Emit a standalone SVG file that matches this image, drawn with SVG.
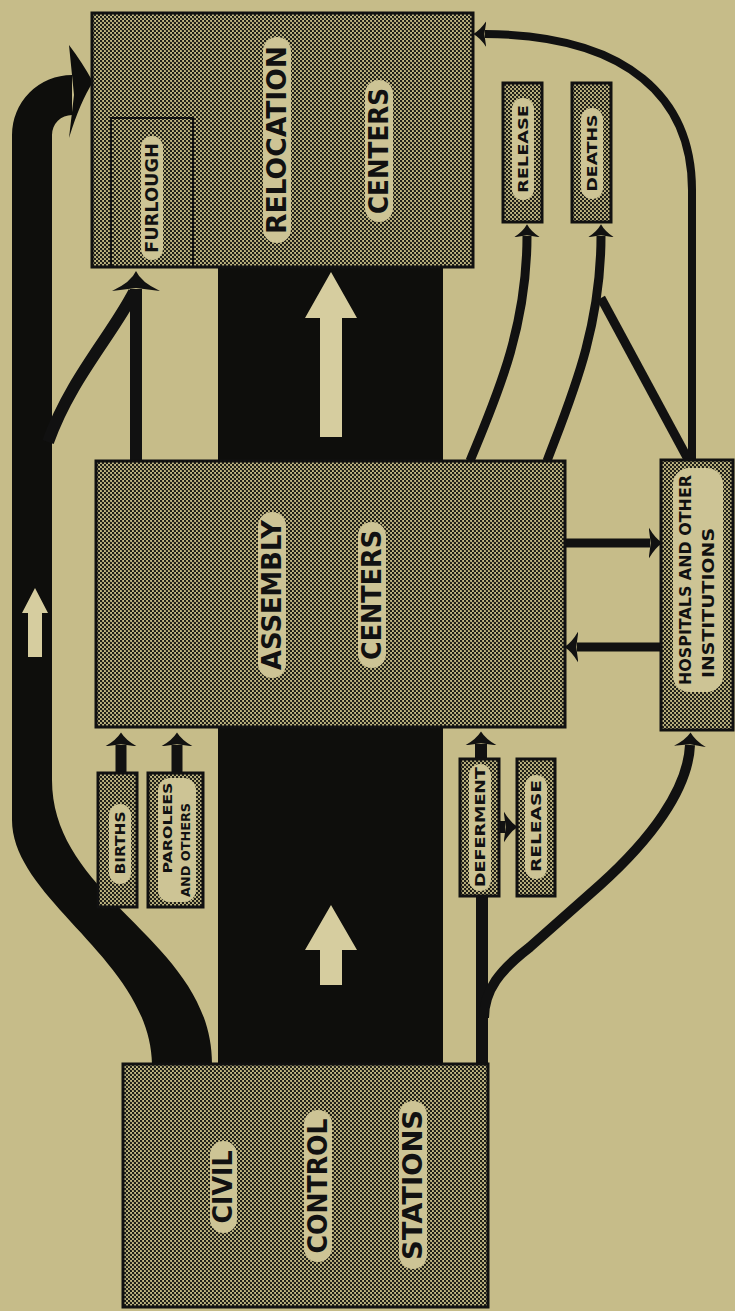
<svg xmlns="http://www.w3.org/2000/svg" width="735" height="1311" viewBox="0 0 735 1311">
<style>
.bg{fill:#c6bc89}
.box{fill:url(#ht);stroke:#111;stroke-width:3}
.ch{fill:#0e0e0c}
.la{fill:#d6cd9f}
.pill{fill:#cdc495}
.t{font-family:"DejaVu Sans","Liberation Sans",Arial,sans-serif;font-weight:bold;fill:#111;text-anchor:middle;dominant-baseline:central}
.ln{fill:none;stroke:#111;stroke-linecap:butt}
</style>
<defs>
<pattern id="ht" width="4" height="4" patternUnits="userSpaceOnUse">
<rect width="4" height="4" fill="#c2b884"/>
<circle cx="1" cy="1" r="1.25" fill="#1c1c16"/>
<circle cx="3" cy="3" r="1.25" fill="#1c1c16"/>
</pattern>
<marker id="ahs" viewBox="0 -10 20 20" refX="2" refY="0" markerUnits="userSpaceOnUse" markerWidth="13" markerHeight="26" orient="auto" preserveAspectRatio="none">
<path d="M20,0 Q9,-3 0,-10 L3,0 L0,10 Q9,3 20,0 Z" fill="#111"/>
</marker>
<marker id="ahm" viewBox="0 -10 20 20" refX="2" refY="0" markerUnits="userSpaceOnUse" markerWidth="14" markerHeight="32" orient="auto" preserveAspectRatio="none">
<path d="M20,0 Q9,-3 0,-10 L3,0 L0,10 Q9,3 20,0 Z" fill="#111"/>
</marker>
<marker id="ahl" viewBox="0 -10 20 20" refX="2" refY="0" markerUnits="userSpaceOnUse" markerWidth="20" markerHeight="48" orient="auto" preserveAspectRatio="none">
<path d="M20,0 Q9,-2 0,-10 L3,0 L0,10 Q9,2 20,0 Z" fill="#111"/>
</marker>
</defs>
<rect class="bg" x="0" y="0" width="735" height="1311"/>

<g id="channels">
<rect class="ch" x="218" y="266" width="225" height="196"/>
<polygon class="la" points="331,272 357,318 342,318 342,437 320,437 320,318 305,318"/>
<rect class="ch" x="218" y="726" width="225" height="338"/>
<polygon class="la" points="331,905 357,950 342,950 342,985 320,985 320,950 305,950"/>
</g>

<g id="connectors">
<path d="M152,1064 C150,960 12,900 12,820 L12,135 A60,60 0 0 1 72,75 L72,115 A20,20 0 0 0 52,135 L52,780 C52,900 212,940 212,1064 Z" fill="#0e0e0c"/>
<path d="M69,45 Q82,62 93,82 Q80,102 69,138 L74,95 Z" fill="#0e0e0c"/>
<polygon class="la" points="35,588 48,613 42,613 42,657 28,657 28,613 22,613"/>
<path class="ln" d="M48,442 C70,380 112,335 134,292" stroke-width="12"/>
<path class="ln" d="M136,460 L136,289" stroke-width="12" marker-end="url(#ahl)"/>
<path class="ln" d="M121,773 L121,745" stroke-width="11" marker-end="url(#ahm)"/>
<path class="ln" d="M177,773 L177,745" stroke-width="11" marker-end="url(#ahm)"/>
<path class="ln" d="M482,1064 L482,895" stroke-width="12"/>
<path class="ln" d="M481,759 L481,744" stroke-width="12" marker-end="url(#ahm)"/>
<path class="ln" d="M499,827 L505,827" stroke-width="12" marker-end="url(#ahm)"/>
<path class="ln" d="M484,1018 C484,990 500,970 530,947 L600,885 C650,840 688,790 690,745" stroke-width="10" marker-end="url(#ahm)"/>
<path class="ln" d="M565,543 L650,543" stroke-width="9" marker-end="url(#ahm)"/>
<path class="ln" d="M661,647 L577,647" stroke-width="9" marker-end="url(#ahm)"/>
<path class="ln" d="M470,461 C495,400 527,330 527,236" stroke-width="9" marker-end="url(#ahs)"/>
<path class="ln" d="M547,461 C570,400 601,330 601,236" stroke-width="9" marker-end="url(#ahs)"/>
<path class="ln" d="M689,461 L601,298" stroke-width="9"/>
<path class="ln" d="M692,461 L692,190 C692,100 630,35 485,34" stroke-width="8" marker-end="url(#ahs)"/>
</g>

<g id="relocation">
<rect class="box" x="92" y="13" width="381" height="254"/>
<rect x="111" y="118" width="82" height="149" fill="none" stroke="#111" stroke-width="2"/>
<rect class="pill" x="263" y="37" width="28" height="206" rx="14"/>
<text class="t" transform="translate(277,140) rotate(-90)" font-size="26" textLength="188" lengthAdjust="spacingAndGlyphs">RELOCATION</text>
<rect class="pill" x="365" y="80" width="28" height="142" rx="14"/>
<text class="t" transform="translate(379,151) rotate(-90)" font-size="26" textLength="126" lengthAdjust="spacingAndGlyphs">CENTERS</text>
</g>

<g id="furlough">
<rect class="pill" x="141" y="136" width="22" height="124" rx="11"/>
<text class="t" transform="translate(152,198) rotate(-90)" font-size="17" textLength="110" lengthAdjust="spacingAndGlyphs">FURLOUGH</text>
</g>

<g id="assembly">
<rect class="box" x="96" y="461" width="469" height="266"/>
<rect class="pill" x="258" y="512" width="28" height="166" rx="14"/>
<text class="t" transform="translate(272,595) rotate(-90)" font-size="26" textLength="150" lengthAdjust="spacingAndGlyphs">ASSEMBLY</text>
<rect class="pill" x="358" y="522" width="28" height="146" rx="14"/>
<text class="t" transform="translate(372,595) rotate(-90)" font-size="26" textLength="130" lengthAdjust="spacingAndGlyphs">CENTERS</text>
</g>

<g id="civil">
<rect class="box" x="123" y="1064" width="365" height="243"/>
<rect class="pill" x="210" y="1141" width="27" height="92" rx="13.5"/>
<text class="t" transform="translate(223,1187) rotate(-90)" font-size="26" textLength="73" lengthAdjust="spacingAndGlyphs">CIVIL</text>
<rect class="pill" x="304" y="1110" width="28" height="152" rx="14"/>
<text class="t" transform="translate(318,1186) rotate(-90)" font-size="26" textLength="135" lengthAdjust="spacingAndGlyphs">CONTROL</text>
<rect class="pill" x="399" y="1101" width="28" height="168" rx="14"/>
<text class="t" transform="translate(413,1185) rotate(-90)" font-size="26" textLength="150" lengthAdjust="spacingAndGlyphs">STATIONS</text>
</g>

<g id="births">
<rect class="box" x="98" y="773" width="39" height="134"/>
<rect class="pill" x="109" y="804" width="22" height="80" rx="11"/>
<text class="t" transform="translate(120,843) rotate(-90)" font-size="14" textLength="63" lengthAdjust="spacingAndGlyphs">BIRTHS</text>
</g>

<g id="parolees">
<rect class="box" x="148" y="773" width="55" height="134"/>
<rect class="pill" x="158" y="778" width="38" height="124" rx="12"/>
<text class="t" transform="translate(167,828) rotate(-90)" font-size="13" textLength="91" lengthAdjust="spacingAndGlyphs">PAROLEES</text>
<text class="t" transform="translate(185,850) rotate(-90)" font-size="13" textLength="94" lengthAdjust="spacingAndGlyphs">AND OTHERS</text>
</g>

<g id="deferment">
<rect class="box" x="460" y="759" width="39" height="137"/>
<rect class="pill" x="469" y="764" width="22" height="127" rx="11"/>
<text class="t" transform="translate(480,827) rotate(-90)" font-size="14" textLength="120" lengthAdjust="spacingAndGlyphs">DEFERMENT</text>
</g>

<g id="release-lower">
<rect class="box" x="517" y="759" width="38" height="137"/>
<rect class="pill" x="525" y="775" width="22" height="104" rx="11"/>
<text class="t" transform="translate(536,826) rotate(-90)" font-size="14" textLength="92" lengthAdjust="spacingAndGlyphs">RELEASE</text>
</g>

<g id="release-upper">
<rect class="box" x="503" y="83" width="39" height="139"/>
<rect class="pill" x="512" y="98" width="22" height="102" rx="11"/>
<text class="t" transform="translate(523,149) rotate(-90)" font-size="14" textLength="88" lengthAdjust="spacingAndGlyphs">RELEASE</text>
</g>

<g id="deaths">
<rect class="box" x="572" y="83" width="39" height="139"/>
<rect class="pill" x="581" y="108" width="22" height="91" rx="11"/>
<text class="t" transform="translate(592,153) rotate(-90)" font-size="14" textLength="77" lengthAdjust="spacingAndGlyphs">DEATHS</text>
</g>

<g id="hospitals">
<rect class="box" x="661" y="460" width="72" height="270"/>
<rect class="pill" x="673" y="468" width="50" height="224" rx="16"/>
<text class="t" transform="translate(686,580) rotate(-90)" font-size="15" textLength="210" lengthAdjust="spacingAndGlyphs">HOSPITALS AND OTHER</text>
<text class="t" transform="translate(709,603) rotate(-90)" font-size="15" textLength="150" lengthAdjust="spacingAndGlyphs">INSTITUTIONS</text>
</g>
</svg>
